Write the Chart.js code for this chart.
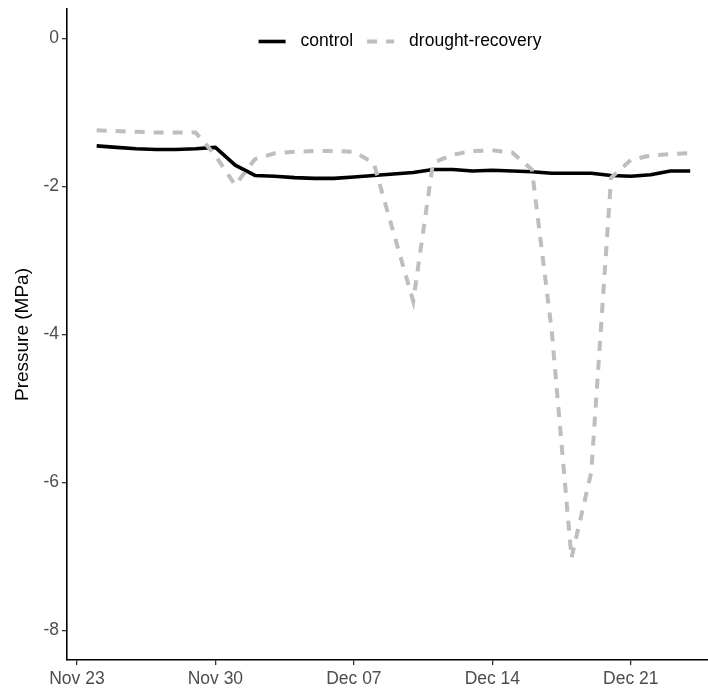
<!DOCTYPE html>
<html>
<head>
<meta charset="utf-8">
<script src="https://cdn.jsdelivr.net/npm/chart.js@4"></script>
<style>
html,body{margin:0;padding:0;background:#fff;overflow:hidden;}
#wrap{width:708px;height:689px;position:relative;}
</style>
</head>
<body>
<div id="wrap"><canvas id="c" width="708" height="689"></canvas></div>
<script>
// ---- data ----
const dates = ['2023-11-24','2023-11-25','2023-11-26','2023-11-27','2023-11-28','2023-11-29','2023-11-30',
  '2023-12-01','2023-12-02','2023-12-03','2023-12-04','2023-12-05','2023-12-06','2023-12-07',
  '2023-12-08','2023-12-09','2023-12-10','2023-12-11','2023-12-12','2023-12-13','2023-12-14',
  '2023-12-15','2023-12-16','2023-12-17','2023-12-18','2023-12-19','2023-12-20','2023-12-21',
  '2023-12-22','2023-12-23','2023-12-24'];
const control = [-1.45,-1.47,-1.49,-1.50,-1.50,-1.49,-1.47,
  -1.71,-1.85,-1.86,-1.88,-1.89,-1.89,-1.87,
  -1.85,-1.83,-1.81,-1.77,-1.77,-1.79,-1.78,
  -1.79,-1.80,-1.82,-1.82,-1.82,-1.85,-1.86,
  -1.84,-1.79,-1.79];
const drought = [-1.24,-1.25,-1.26,-1.27,-1.27,-1.27,-1.58,
  -1.98,-1.63,-1.55,-1.53,-1.52,-1.52,-1.53,
  -1.68,-2.62,-3.55,-1.68,-1.57,-1.52,-1.51,
  -1.54,-1.77,-3.95,-7.02,-5.86,-1.88,-1.64,
  -1.58,-1.56,-1.55];
const seriesNames = ['control','drought-recovery'];
const xTickDates = ['2023-11-23','2023-11-30','2023-12-07','2023-12-14','2023-12-21'];
const xTickLabels = ['Nov 23','Nov 30','Dec 07','Dec 14','Dec 21'];
const yTicks = [0,-2,-4,-6,-8];
const yTitle = 'Pressure (MPa)';

// ---- helpers ----
const origin = Date.UTC(2023,10,23);
function dayOf(s){ const p=s.split('-').map(Number); return (Date.UTC(p[0],p[1]-1,p[2])-origin)/86400000; }
const xs = dates.map(dayOf);
const xTickVals = xTickDates.map(dayOf);

const FONT = "'Liberation Sans', Arial, sans-serif";

const legendPlugin = {
  id:'ggLegend',
  afterDraw(chart){
    const ctx = chart.ctx;
    ctx.save();
    ctx.font = '17.5px ' + FONT;
    ctx.textBaseline = 'middle';
    const y = 41.5;
    const keyW = 27, keyGap = 15, itemGap = 14;
    const ds = chart.data.datasets;
    let total = 0;
    ds.forEach((d,i)=>{ total += keyW + keyGap + ctx.measureText(d.label).width + (i<ds.length-1?itemGap:0); });
    let x = 400 - total/2;
    ds.forEach((d,i)=>{
      ctx.beginPath();
      ctx.strokeStyle = d.borderColor;
      ctx.lineWidth = d.borderWidth;
      ctx.setLineDash(d.borderDash || []);
      ctx.lineCap = 'butt';
      ctx.moveTo(x, y); ctx.lineTo(x+keyW, y); ctx.stroke();
      ctx.setLineDash([]);
      x += keyW + keyGap;
      ctx.fillStyle = '#000';
      ctx.fillText(d.label, x, y);
      x += ctx.measureText(d.label).width + itemGap;
    });
    ctx.restore();
  }
};

new Chart(document.getElementById('c'), {
  type:'line',
  data:{
    datasets:[
      { label: seriesNames[0], data: xs.map((x,i)=>({x, y: control[i]})),
        borderColor:'#000000', borderWidth:3.6, pointRadius:0, tension:0, fill:false, order:2,
        borderCapStyle:'butt', borderJoinStyle:'round' },
      { label: seriesNames[1], data: xs.map((x,i)=>({x, y: drought[i]})),
        borderColor:'#bebebe', borderWidth:4, borderDash:[10,9], pointRadius:0, tension:0, fill:false, order:1,
        borderCapStyle:'butt', borderJoinStyle:'miter' }
    ]
  },
  options:{
    responsive:false, animation:false, devicePixelRatio:1,
    layout:{ padding:{ left:0, right:0, top:9, bottom:0 } },
    plugins:{ legend:{display:false}, tooltip:{enabled:false} },
    scales:{
      x:{ type:'linear', min:-0.5, max:31.9,
        afterBuildTicks(s){ s.ticks = xTickVals.map(v=>({value:v})); },
        afterFit(s){ s.height = 29; s.paddingLeft = 0; s.paddingRight = 0; },
        ticks:{ autoSkip:false, maxRotation:0, padding:4, color:'#4d4d4d',
          font:{ family:FONT, size:17.5 },
          callback(v){ const k = xTickVals.indexOf(v); return k>=0 ? xTickLabels[k] : ''; } },
        grid:{ drawOnChartArea:false, drawTicks:true, tickLength:5, color:'#333', lineWidth:1.3 },
        border:{ display:true, color:'#000', width:1.6 }
      },
      y:{ type:'linear', min:-8.4, max:0.4,
        afterBuildTicks(s){ s.ticks = yTicks.map(v=>({value:v})); },
        afterFit(s){ s.width = 67; s.paddingTop = 0; s.paddingBottom = 0; },
        ticks:{ padding:3, color:'#4d4d4d', font:{ family:FONT, size:17.5 } },
        grid:{ drawOnChartArea:false, drawTicks:true, tickLength:5, color:'#333', lineWidth:1.3 },
        border:{ display:true, color:'#000', width:1.6 },
        title:{ display:true, text:yTitle, color:'#000', font:{ family:FONT, size:19 }, padding:{top:11,bottom:0} }
      }
    }
  },
  plugins:[legendPlugin]
});
</script>
</body>
</html>
